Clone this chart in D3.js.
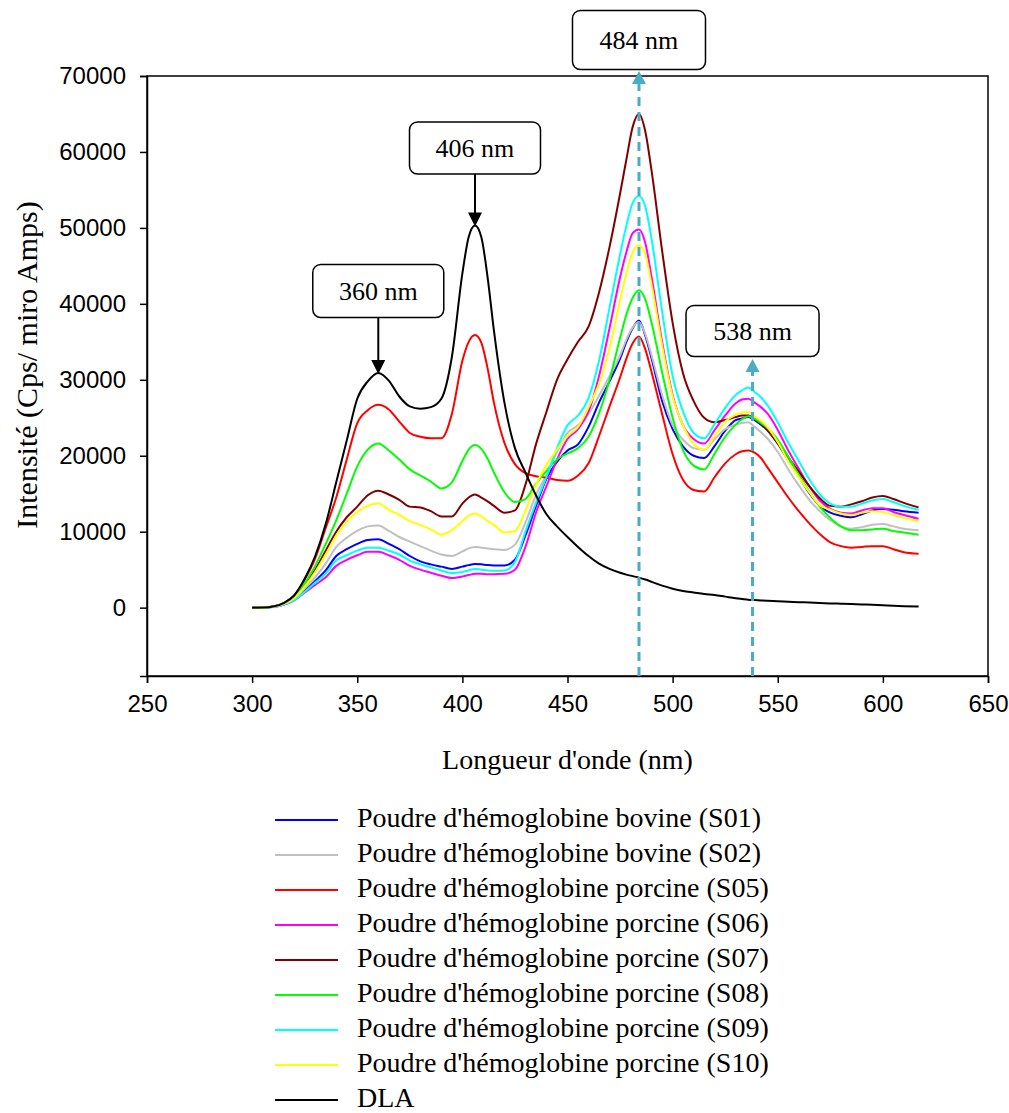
<!DOCTYPE html>
<html>
<head>
<meta charset="utf-8">
<script src="https://cdn.jsdelivr.net/npm/d3@7"></script>
<style>
  html, body { margin: 0; padding: 0; background: #ffffff; }
  svg { display: block; }
</style>
</head>
<body>
<svg id="chart" width="1009" height="1113"></svg>
<script>
// Wavelengths (nm) at which the emission spectra were sampled
const wavelengths = [300,305,310,315,320,325,330,335,340,345,350,355,360,365,370,375,380,385,390,395,
  400,403,406,409,412,415,420,425,430,435,440,445,450,455,460,465,470,475,478,481,484,487,490,495,
  500,505,510,515,520,525,530,533,536,539,542,545,550,555,560,565,570,575,580,585,590,595,600,605,610,617];

// Intensity (Cps / micro Amps) for each sample
const s01 = [0,15,110,420,1050,2200,3500,4900,6800,7700,8400,8900,9000,8400,7700,6800,6100,5700,5400,5100,
  5400,5600,5750,5700,5600,5550,5550,6300,9500,13400,17000,19200,20700,21500,23800,27000,29800,32800,35000,36800,37800,35800,32800,27200,
  23500,21200,20000,19700,21300,23300,24700,24900,25100,24700,24100,23400,21600,19400,17300,15100,13400,12500,12100,11900,12300,12800,13000,12900,12700,12500];
const s02 = [0,15,120,450,1150,2500,4000,5800,8000,9200,10100,10700,10800,10100,9300,8700,8100,7500,7000,6800,
  7400,7800,8000,7900,7800,7700,7600,8300,11200,14800,17500,20500,23000,24000,25500,27900,30500,33200,35300,36900,37600,36000,33200,28000,
  24000,22100,21000,20800,22200,23500,24100,24300,24400,23800,23100,22300,20500,18200,16100,14200,12700,11500,10700,10400,10600,10900,11000,10700,10400,10200];
const s05 = [0,20,150,600,1600,3700,6500,10500,14500,19500,24300,26000,26700,26100,24500,23000,22500,22300,22300,25500,
  32500,35000,35900,34900,31500,27000,21700,18900,17700,17300,17100,16800,16700,17400,19000,22600,26500,30300,32800,34800,35700,34000,31000,25500,
  20200,16800,15500,15300,17200,19000,20200,20600,20700,20400,19700,18500,16500,14500,12700,11100,9700,8600,8100,7900,8000,8100,8100,7700,7300,7100];
const s06 = [0,15,100,380,950,2000,3000,4000,5500,6300,6900,7350,7350,6900,6300,5500,5000,4600,4200,3900,
  4100,4300,4450,4450,4400,4400,4450,5000,8000,12500,16000,19500,22200,23500,25800,30500,36800,43500,46800,49300,49800,48000,43500,35000,
  28000,24000,22200,21600,23400,25300,26900,27400,27500,27000,26400,25600,23400,20700,18300,16000,14100,13000,12500,12400,12800,13100,13100,12600,12200,11700];
const s07 = [0,20,150,550,1400,3000,5000,7500,10000,11900,13300,14800,15400,14900,14200,13300,13200,12700,12000,12000,
  13700,14500,14900,14500,14000,13400,12500,12800,16200,21500,25800,30000,32700,35000,37000,41500,47500,54500,59000,63300,65000,62700,57500,47000,
  37500,30800,27200,25000,24400,24700,25100,25300,25300,24800,24300,23400,21700,19800,17900,16000,14400,13400,13300,13600,14000,14500,14700,14300,13800,13200];
const s08 = [0,20,150,550,1400,3200,5500,8400,11500,15000,18600,20800,21600,20700,19500,18200,17400,16600,15700,16500,
  19300,20800,21400,20900,19600,17800,15200,13900,14300,16300,18000,19500,20300,21000,22500,25600,30000,35500,38600,40800,41800,40600,37500,31000,
  25000,20700,18700,18200,20300,22500,24100,24800,25200,24900,24300,23700,22100,19900,17500,15300,13300,11800,10700,10200,10200,10300,10400,10100,9900,9600];
const s09 = [0,15,100,400,1000,2100,3300,4500,6200,6900,7500,7900,7900,7500,7000,6200,5700,5300,4900,4550,
  4700,4900,5100,5000,4900,4850,4900,6000,10000,13800,17200,21000,24000,25300,27600,32500,39500,46500,50300,53300,54200,52800,48500,39000,
  30500,25800,23000,22300,24200,26300,28000,28600,29000,28400,27700,26700,24400,21700,19300,16900,14900,13700,13300,13300,13700,14100,14300,13900,13400,12900];
const s10 = [0,15,130,500,1250,2800,4700,7000,9500,11300,12600,13400,13700,12900,12200,11400,10900,10300,9600,10200,
  11400,12100,12400,12000,11400,10900,9900,10100,12800,16200,18800,20800,22600,23800,26400,29500,34200,40500,44000,46800,47700,46500,42500,34500,
  27800,24000,21600,20800,22600,24500,25400,25700,25800,25200,24600,23800,21800,19300,17200,15200,13500,12900,12400,12200,12500,12700,12600,12200,11800,11400];
const dla = [0,20,150,600,1600,3800,6800,11000,16500,22000,27500,29800,30900,29900,27800,26500,26200,26400,27500,33000,
  44000,48800,50300,48800,43500,36500,27000,21000,17800,14800,12300,10700,9300,8000,6800,5800,5100,4600,4350,4150,3950,3700,3400,2900,
  2500,2200,2000,1800,1650,1450,1250,1150,1050,1000,950,900,850,780,720,680,620,560,520,480,420,380,320,250,200,150];

const seriesNames = [
  "Poudre d'hémoglobine bovine (S01)",
  "Poudre d'hémoglobine bovine (S02)",
  "Poudre d'hémoglobine porcine (S05)",
  "Poudre d'hémoglobine porcine (S06)",
  "Poudre d'hémoglobine porcine (S07)",
  "Poudre d'hémoglobine porcine (S08)",
  "Poudre d'hémoglobine porcine (S09)",
  "Poudre d'hémoglobine porcine (S10)",
  "DLA"
];
const seriesValues = [s01, s02, s05, s06, s07, s08, s09, s10, dla];
const seriesColors = ["#0000ff", "#c0c0c0", "#ff0000", "#ff00ff", "#800000", "#00ff00", "#00ffff", "#ffff00", "#000000"];

const xTicks = [250, 300, 350, 400, 450, 500, 550, 600, 650];
const yTicks = [0, 10000, 20000, 30000, 40000, 50000, 60000, 70000];

// Peak markers: black arrows point down onto the DLA peaks, blue dashed guides point up
const peakDown = [360, 406];
const peakUp = [484, 538];

const svg = d3.select("#chart");
const plot = { left: 147, right: 988, top: 76, bottom: 676 };

const x = d3.scaleLinear().domain([250, 650]).range([plot.left, plot.right]);
const y = d3.scaleLinear().domain([-9000, 70000]).range([plot.bottom, plot.top]);

const serif = "'Liberation Serif', 'Times New Roman', serif";
const sans = "'Liberation Sans', Arial, sans-serif";

// Plot frame
svg.append("rect")
  .attr("x", plot.left).attr("y", plot.top)
  .attr("width", plot.right - plot.left).attr("height", plot.bottom - plot.top)
  .attr("fill", "none").attr("stroke", "#000").attr("stroke-width", 1.5);

// Axes
const xAxis = svg.append("g")
  .attr("transform", `translate(0,${plot.bottom})`)
  .call(d3.axisBottom(x).tickValues(xTicks).tickFormat(d3.format("d")).tickSize(7).tickPadding(12));
const yAxis = svg.append("g")
  .attr("transform", `translate(${plot.left},0)`)
  .call(d3.axisLeft(y).tickValues(yTicks).tickFormat(d3.format("d")).tickSize(7).tickPadding(14));
[xAxis, yAxis].forEach(g => {
  g.select(".domain").attr("stroke", "#000").attr("stroke-width", 1.5);
  g.selectAll(".tick line").attr("stroke", "#000").attr("stroke-width", 1.5);
  g.selectAll(".tick text").attr("fill", "#000").style("font-family", sans).style("font-size", "24px");
});

// Axis titles
svg.append("text")
  .attr("x", (plot.left + plot.right) / 2).attr("y", 769)
  .attr("text-anchor", "middle")
  .style("font-family", serif).style("font-size", "28px")
  .text("Longueur d'onde (nm)");
svg.append("text")
  .attr("transform", `translate(37,365) rotate(-90)`)
  .attr("text-anchor", "middle")
  .style("font-family", serif).style("font-size", "30px")
  .text("Intensité (Cps/ miro Amps)");

// Spectra
const line = d3.line()
  .x((d, i) => x(wavelengths[i]))
  .y(d => y(d))
  .curve(d3.curveMonotoneX);

const curves = svg.append("g");
seriesValues.forEach((vals, k) => {
  curves.append("path")
    .datum(vals)
    .attr("d", line)
    .attr("fill", "none")
    .attr("stroke", seriesColors[k])
    .attr("stroke-width", 2)
    .attr("stroke-linejoin", "round");
});

// Rounded label box with centred text
function labelBox(cx, cy, w, h, label) {
  const g = svg.append("g");
  g.append("rect")
    .attr("x", cx - w / 2).attr("y", cy - h / 2)
    .attr("width", w).attr("height", h)
    .attr("rx", 8).attr("ry", 8)
    .attr("fill", "#fff").attr("stroke", "#000").attr("stroke-width", 1.5);
  g.append("text")
    .attr("x", cx).attr("y", cy + 9)
    .attr("text-anchor", "middle")
    .style("font-family", serif).style("font-size", "26px")
    .text(label);
}

const dlaAt = nm => dla[wavelengths.indexOf(nm)];

// Down arrows onto the DLA maxima
const downBoxes = { 360: { cy: 291, h: 53 }, 406: { cy: 148, h: 52 } };
peakDown.forEach(nm => {
  const px = x(nm);
  const tip = y(dlaAt(nm)) + 1;
  const b = downBoxes[nm];
  svg.append("line")
    .attr("x1", px).attr("x2", px)
    .attr("y1", b.cy + b.h / 2).attr("y2", tip - 12)
    .attr("stroke", "#000").attr("stroke-width", 2);
  svg.append("path")
    .attr("d", `M${px - 7},${tip - 14} L${px + 7},${tip - 14} L${px},${tip} Z`)
    .attr("fill", "#000");
  labelBox(px, b.cy, 131, b.h, `${nm} nm`);
});

// Dashed guides rising from the x axis
const upBoxes = { 484: { cy: 40, h: 59, tip: 71 }, 538: { cy: 331, h: 51, tip: 359 } };
peakUp.forEach(nm => {
  const px = x(nm);
  const b = upBoxes[nm];
  svg.append("line")
    .attr("x1", px).attr("x2", px)
    .attr("y1", plot.bottom).attr("y2", b.tip + 12)
    .attr("stroke", "#4bacc6").attr("stroke-width", 3)
    .attr("stroke-dasharray", "9,6");
  svg.append("path")
    .attr("d", `M${px - 7},${b.tip + 13} L${px + 7},${b.tip + 13} L${px},${b.tip} Z`)
    .attr("fill", "#4bacc6");
  labelBox(px, b.cy, 133, b.h, `${nm} nm`);
});

// Legend
const legend = svg.append("g");
seriesNames.forEach((name, k) => {
  const cy = 820 + k * 35;
  legend.append("line")
    .attr("x1", 275).attr("x2", 338)
    .attr("y1", cy).attr("y2", cy)
    .attr("stroke", seriesColors[k]).attr("stroke-width", 2);
  legend.append("text")
    .attr("x", 357).attr("y", cy + 7)
    .style("font-family", serif).style("font-size", "28px")
    .text(name);
});
</script>
</body>
</html>
